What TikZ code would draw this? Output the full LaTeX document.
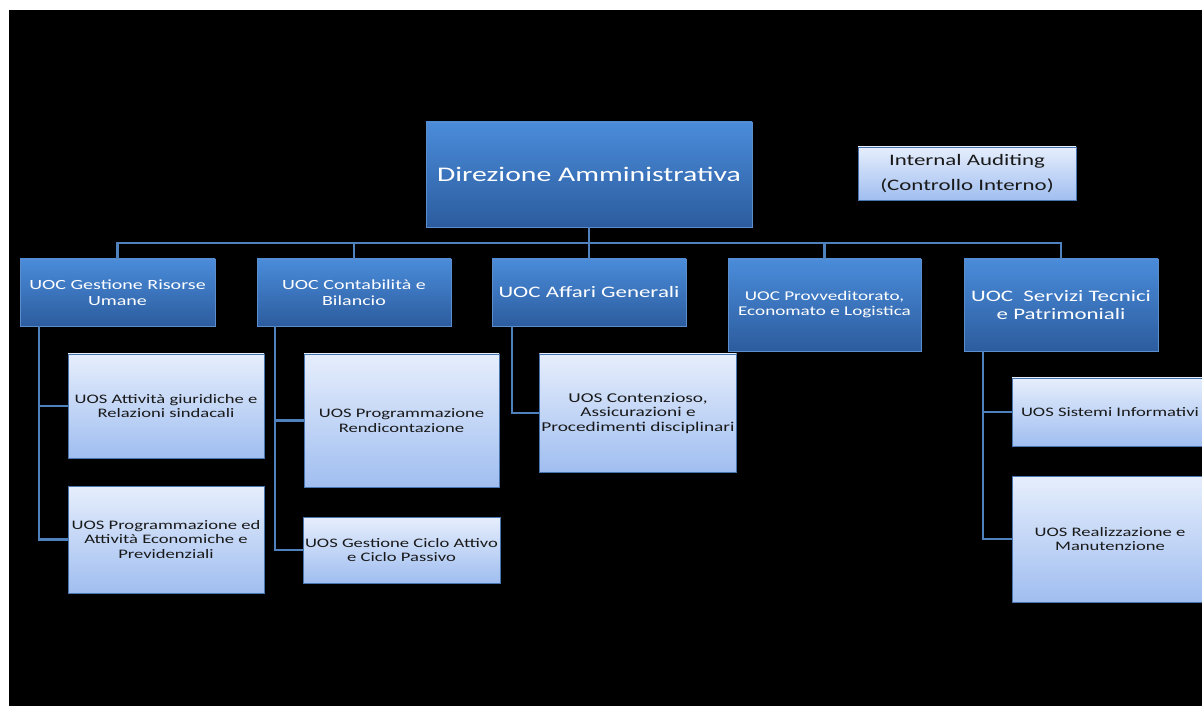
\documentclass[tikz,border=0pt]{standalone}
\usepackage{fontspec}
\setmainfont{Carlito}[FakeStretch=1.43]
\usepackage{tikz}
\usetikzlibrary{shapes,arrows,positioning}
\definecolor{uoctop}{RGB}{74,140,218}
\definecolor{uocbot}{RGB}{44,92,158}
\definecolor{uocline}{RGB}{92,142,206}
\definecolor{uostop}{RGB}{230,238,252}
\definecolor{uosbot}{RGB}{160,190,240}
\definecolor{uosline}{RGB}{72,116,176}
\definecolor{wirecol}{RGB}{79,129,189}
\tikzstyle{darkblock}=[rectangle, draw=uocline, thick, align=center, top color=uoctop, bottom color=uocbot, text=white, inner sep=2pt, font=\fontsize{14}{15.5}\selectfont]
\tikzstyle{lightblock}=[rectangle, draw=uosline, thick, align=center, top color=uostop, bottom color=uosbot, text=black!90, inner sep=2pt, font=\fontsize{13}{14.5}\selectfont]
\tikzstyle{wire}=[draw=wirecol, line width=2.2pt]

\begin{document}
\begin{tikzpicture}[x=1pt, y=-1pt]

\useasboundingbox (0,0) rectangle (1202,708);
\clip (0,0) rectangle (1202,708);
\fill[white] (0,0) rectangle (1202,708);
\fill[black] (9,10) rectangle (1202,706);

\node[darkblock, minimum width=326pt, minimum height=105pt, font=\fontsize{20.8}{25}\selectfont] (d0) at (589,174.5) {Direzione Amministrativa};
\node[lightblock, minimum width=218pt, minimum height=53pt, font=\fontsize{16}{25}\selectfont] (ia) at (967,173.5) {Internal Auditing\\(Controllo Interno)};

\node[darkblock, minimum width=195pt, minimum height=67pt] (c1) at (117.5,292.5) {UOC Gestione Risorse\\Umane};
\node[darkblock, minimum width=194pt, minimum height=67pt] (c2) at (354,292.5) {UOC Contabilità e\\Bilancio};
\node[darkblock, minimum width=194pt, minimum height=67pt, font=\fontsize{16}{17}\selectfont] (c3) at (589,292.5) {UOC Affari Generali};
\node[darkblock, minimum width=193pt, minimum height=92pt, font=\fontsize{13.4}{15}\selectfont] (c4) at (824.5,305) {UOC Provveditorato,\\Economato e Logistica};
\node[darkblock, minimum width=194pt, minimum height=92pt, font=\fontsize{16}{17.5}\selectfont] (c5) at (1061,305) {UOC\ \ Servizi Tecnici\\e Patrimoniali};

\node[lightblock, minimum width=196pt, minimum height=104pt] (s11) at (166,406) {UOS Attività giuridiche e\\Relazioni sindacali};
\node[lightblock, minimum width=196pt, minimum height=107pt] (s12) at (166,539.5) {UOS Programmazione ed\\Attività Economiche e\\Previdenziali};
\node[lightblock, minimum width=195pt, minimum height=133pt] (s21) at (401.5,420.5) {UOS Programmazione\\Rendicontazione};
\node[lightblock, minimum width=195pt, minimum height=66pt] (s22) at (401.5,550) {UOS Gestione Ciclo Attivo\\e Ciclo Passivo};
\node[lightblock, minimum width=196pt, minimum height=118pt, font=\fontsize{13.5}{14.5}\selectfont] (s31) at (638,413) {UOS Contenzioso,\\Assicurazioni e\\Procedimenti disciplinari};
\node[lightblock, minimum width=196pt, minimum height=68pt] (s51) at (1110,412) {UOS Sistemi Informativi};
\node[lightblock, minimum width=196pt, minimum height=126pt] (s52) at (1110,539) {UOS Realizzazione e\\Manutenzione};

% bus from the direction box to the five UOC
\coordinate (bus) at (589,243);
\draw[wire] (d0.south) -- (bus);
\foreach \c in {c1,c2,c3,c4,c5}
  \draw[wire] (bus) -| (\c.north);

% UOS under each UOC
\draw[wire] ([xshift=19pt]c1.south west) |- (s11.west);
\draw[wire] ([xshift=19pt]c1.south west) |- (s12.west);
\draw[wire] ([xshift=18pt]c2.south west) |- (s21.west);
\draw[wire] ([xshift=18pt]c2.south west) |- (s22.west);
\draw[wire] ([xshift=20pt]c3.south west) |- (s31.west);
\draw[wire] ([xshift=19pt]c5.south west) |- (s51.west);
\draw[wire] ([xshift=19pt]c5.south west) |- (s52.west);

\end{tikzpicture}
\end{document}
